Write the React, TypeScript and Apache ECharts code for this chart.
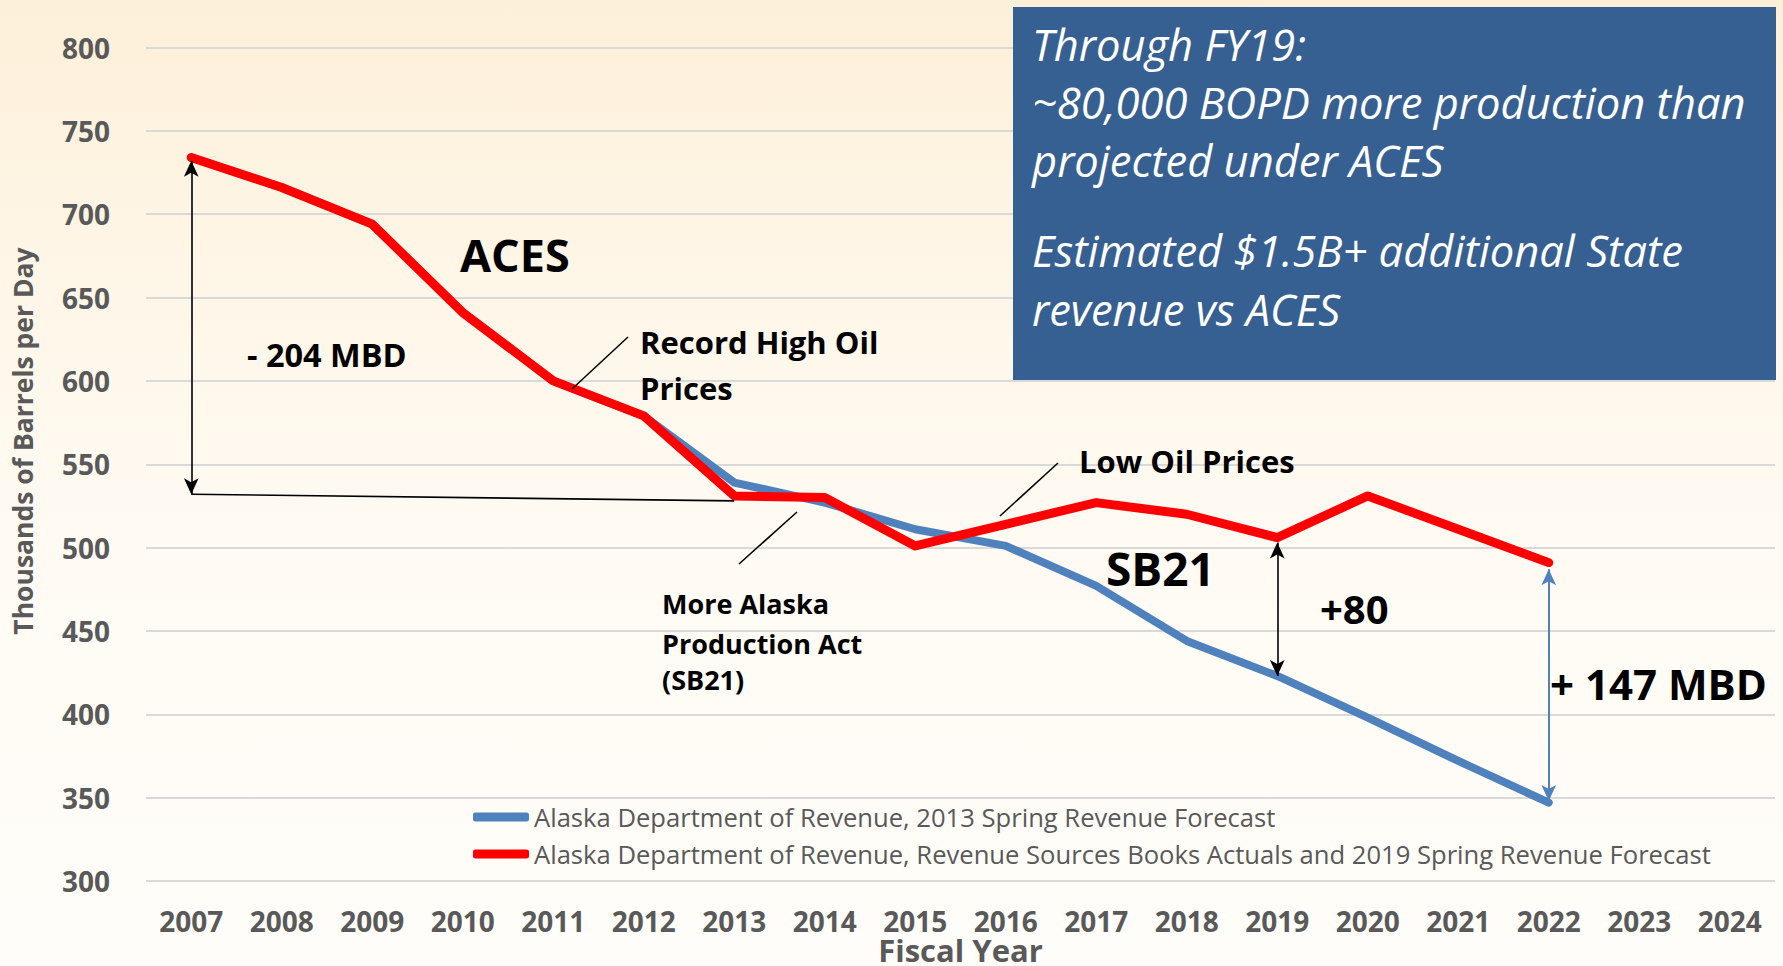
import React, { useEffect, useRef } from "react";
import * as echarts from "echarts";

// ---- data ----
const years = [
  "2007", "2008", "2009", "2010", "2011", "2012", "2013", "2014", "2015",
  "2016", "2017", "2018", "2019", "2020", "2021", "2022", "2023", "2024",
];
const forecast2013Name = "Alaska Department of Revenue, 2013 Spring Revenue Forecast";
const actualsName =
  "Alaska Department of Revenue, Revenue Sources Books Actuals and 2019 Spring Revenue Forecast";
const forecast2013 = [734, 716, 694, 641, 600, 579, 539, 527, 511, 501, 477, 444, 423, 398, 372, 347];
const actualsAnd2019 = [734, 716, 694, 641, 600, 579, 531, 530, 501, 514, 527, 520, 506, 531, 511, 491];
const yMin = 300;
const yMax = 800;
const yStep = 50;

// annotation arrows in data space: [year, from, to]
const acesDrop = ["2007", 732, 532];
const acesBase = [["2007", 532], ["2013", 528]];
const sb21Gap = ["2019", 503, 423];
const totalGap = ["2022", 487, 348];

const boxLines = [
  "Through FY19:",
  "~80,000 BOPD more production than",
  "projected under ACES",
  "Estimated $1.5B+ additional State",
  "revenue vs ACES",
];

const FONT = '"Open Sans", "Liberation Sans", sans-serif';
const GRAY = "#595959";

function label(text: string, x: number, y: number, size: number, extra: any = {}) {
  return {
    type: "text",
    x,
    y,
    z: 20,
    silent: true,
    style: {
      text,
      fill: "#000",
      fontFamily: FONT,
      fontWeight: "bold",
      fontSize: size,
      align: "left",
      verticalAlign: "middle",
      ...extra,
    },
  };
}

function leader(x1: number, y1: number, x2: number, y2: number) {
  return {
    type: "line",
    z: 20,
    silent: true,
    shape: { x1, y1, x2, y2 },
    style: { stroke: "#000", lineWidth: 1.5 },
  };
}

function arrow(a: any[], color: string, width: number) {
  return [
    { coord: [a[0], a[1]], symbol: "arrow", symbolSize: [11, 16], lineStyle: { color, width, type: "solid" } },
    { coord: [a[0], a[2]], symbol: "arrow", symbolSize: [11, 16] },
  ];
}

export default function App() {
  const ref = useRef<HTMLDivElement>(null);
  useEffect(() => {
    const chart = echarts.init(ref.current!, null, { renderer: "svg" });
    const boxY = [44.5, 102, 160.5, 250, 309];
    chart.setOption({
      animation: false,
      backgroundColor: "transparent",
      grid: {
        left: 146,
        right: 8,
        top: 47.5,
        bottom: 85,
        containLabel: false,
        outerBoundsMode: "none",
      },
      xAxis: {
        type: "category",
        data: years,
        boundaryGap: true,
        axisLine: { show: false },
        axisTick: { show: false },
        axisLabel: {
          color: GRAY,
          fontFamily: FONT,
          fontWeight: "bold",
          fontSize: 28,
          margin: 26,
        },
      },
      yAxis: {
        type: "value",
        min: yMin,
        max: yMax,
        interval: yStep,
        axisLine: { show: false },
        axisTick: { show: false },
        axisLabel: {
          color: GRAY,
          fontFamily: FONT,
          fontWeight: "bold",
          fontSize: 28,
          margin: 36,
        },
        splitLine: { lineStyle: { color: "#D9D9D9", width: 2 } },
      },
      legend: {
        orient: "vertical",
        left: 473,
        top: 804,
        padding: 0,
        itemWidth: 56,
        itemHeight: 9,
        itemGap: 11,
        icon: "roundRect",
        selectedMode: false,
        textStyle: { color: GRAY, fontFamily: FONT, fontSize: 25.6 },
        data: [forecast2013Name, actualsName],
      },
      series: [
        {
          name: forecast2013Name,
          type: "line",
          data: forecast2013,
          symbol: "none",
          z: 2,
          itemStyle: { color: "#4F81BD" },
          lineStyle: { color: "#4F81BD", width: 8, cap: "round", join: "round" },
        },
        {
          name: actualsName,
          type: "line",
          data: actualsAnd2019,
          symbol: "none",
          z: 3,
          itemStyle: { color: "#FF0000" },
          lineStyle: { color: "#FF0000", width: 9, cap: "round", join: "round" },
          markLine: {
            silent: true,
            animation: false,
            label: { show: false },
            emphasis: { disabled: true },
            symbol: ["none", "none"],
            data: [
              arrow(acesDrop, "#000", 1.6),
              [
                { coord: acesBase[0], symbol: "none", lineStyle: { color: "#000", width: 1.6, type: "solid" } },
                { coord: acesBase[1], symbol: "none" },
              ],
              arrow(sb21Gap, "#000", 1.6),
              arrow(totalGap, "#4F81BD", 2),
            ],
          },
        },
      ],
      graphic: [
        {
          type: "text",
          x: 23,
          y: 441,
          rotation: Math.PI / 2,
          silent: true,
          style: {
            text: "Thousands of Barrels per Day",
            fill: GRAY,
            fontFamily: FONT,
            fontWeight: "bold",
            fontSize: 26.5,
            align: "center",
            verticalAlign: "middle",
          },
        },
        {
          type: "text",
          x: 960.5,
          y: 949.5,
          silent: true,
          style: {
            text: "Fiscal Year",
            fill: GRAY,
            fontFamily: FONT,
            fontWeight: "bold",
            fontSize: 31,
            align: "center",
            verticalAlign: "middle",
          },
        },
        {
          type: "rect",
          z: 15,
          silent: true,
          shape: { x: 1013, y: 7, width: 763, height: 373 },
          style: { fill: "#376092" },
        },
        ...boxLines.map((t, i) =>
          label(t, 1032, boxY[i], 43.5, { fill: "#FFFFFF", fontWeight: "normal", fontStyle: "italic" })
        ),
        label("ACES", 460, 254, 45),
        label("- 204 MBD", 247, 354, 32.5),
        label("Record High Oil", 640, 342, 31),
        label("Prices", 640, 388, 31),
        label("Low Oil Prices", 1079, 461, 31),
        label("More Alaska", 662, 603, 27),
        label("Production Act", 662, 643, 27),
        label("(SB21)", 662, 679, 27),
        label("SB21", 1106, 568, 46),
        label("+80", 1320, 608, 40),
        label("+ 147 MBD", 1550, 683, 42),
        leader(572, 389, 628, 337),
        leader(739, 564, 797, 512),
        leader(1000, 516, 1058, 463),
      ],
    });
    return () => chart.dispose();
  }, []);
  return (
    <div
      ref={ref}
      style={{
        position: "fixed",
        left: 0,
        top: 0,
        width: 1783,
        height: 966,
        background: "linear-gradient(180deg, #FDF0D9 0%, #FEF7EA 35%, #FFFBF4 60%, #FFFDF9 100%)",
      }}
    />
  );
}
